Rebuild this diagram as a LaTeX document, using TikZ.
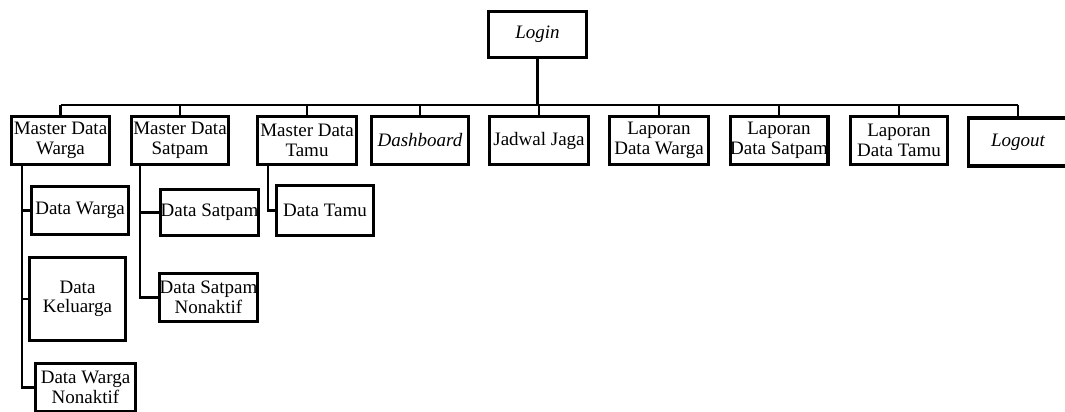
\documentclass[tikz,border=0pt]{standalone}
\usepackage{fontspec}
\setmainfont{Liberation Serif}
\begin{document}
\begin{tikzpicture}[x=1pt,y=-1pt,
  menubox/.style={draw, line width=3.4pt, inner sep=0pt, align=center,
    minimum width=98pt, minimum height=48pt,
    font=\fontsize{19}{19.5}\selectfont},
  link/.style={draw, line width=2.5pt}]
\useasboundingbox (0,0) rectangle (1065,412);

% top level
\node[menubox, minimum height=46pt, line width=3pt] (login) at (537.5,34.5) {\itshape Login};

% first level menu
\node[menubox] (mdw)    at (60.5,140.5) {Master Data\\Warga};
\node[menubox, minimum width=97pt] (mds) at (180,140.5) {Master Data\\Satpam};
\node[menubox, minimum width=99pt] (mdt) at (307,140.5) {Master Data\\Tamu};
\node[menubox, minimum width=97pt] (dash) at (420,140.5) {\itshape Dashboard};
\node[menubox, minimum width=99pt] (jadwal) at (539,140.5) {Jadwal Jaga};
\node[menubox, minimum width=99pt] (ldw) at (659,140.5) {Laporan\\Data Warga};
\node[menubox, minimum width=97pt] (lds) at (779,140.5) {Laporan\\Data Satpam};
\node[menubox, minimum width=97pt] (ldt) at (899,140.5) {Laporan\\Data Tamu};
\node[menubox, minimum width=99pt] (logout) at (1018,142) {\itshape Logout};

% sub menus
\node[menubox, minimum width=97pt] (dw)  at (80,210.5) {Data Warga};
\node[menubox, minimum width=96pt, minimum height=83pt] (dk) at (77.5,299) {Data\\Keluarga};
\node[menubox, minimum width=100pt] (dwn) at (85.5,387.5) {Data Warga\\Nonaktif};
\node[menubox, minimum width=96pt, minimum height=46pt] (ds) at (209.5,212.5) {Data Satpam};
\node[menubox] (dsn) at (208.5,297.5) {Data Satpam\\Nonaktif};
\node[menubox, minimum width=97pt, minimum height=50pt] (dt) at (325,210.5) {Data Tamu};

% main bus
\coordinate (bus) at (login.south |- 0,105);
\draw[link] (login.south) -- (bus);
\draw[link] (mdw.north |- bus) -- (logout.north |- bus);
\foreach \n in {mdw,mds,mdt,dash,jadwal,ldw,lds,ldt,logout}
  \draw[link] (\n.north) -- (\n.north |- bus);

% sub menu spines
\coordinate (sw) at (22,166);
\coordinate (ss) at (140,166);
\coordinate (st) at (268,166);
\draw[link] (sw) |- (dwn.west);
\draw[link] (sw |- dw.west) -- (dw.west);
\draw[link] (sw |- dk.west) -- (dk.west);
\draw[link] (ss) |- (dsn.west);
\draw[link] (ss |- ds.west) -- (ds.west);
\draw[link] (st) |- (dt.west);
\end{tikzpicture}
\end{document}
